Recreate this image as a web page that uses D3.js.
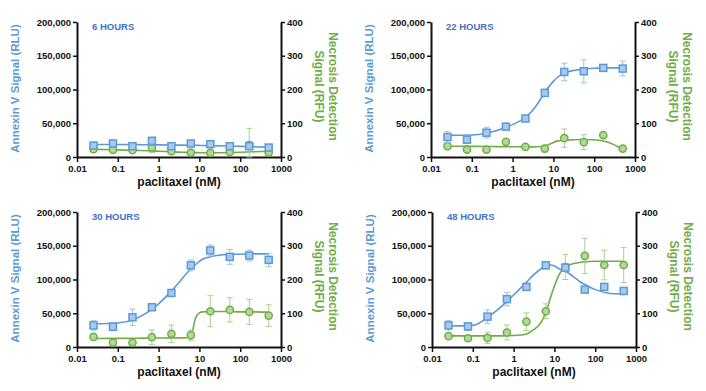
<!DOCTYPE html>
<html>
<head>
<meta charset="utf-8">
<script src="https://cdn.jsdelivr.net/npm/d3@7"></script>
<style>
  body { margin: 0; background: #fff; }
  svg { font-family: "Liberation Sans", Arial, sans-serif; }
  .tick text { font-size: 9.5px; font-weight: bold; fill: #111; }
</style>
</head>
<body>
<div class="chart"></div>
<script>
// paclitaxel doses (nM), 3-fold dilutions from 500
var doses = [0.0254, 0.0762, 0.229, 0.686, 2.06, 6.17, 18.5, 55.6, 166.7, 500];

var titles = ["6 HOURS", "22 HOURS", "30 HOURS", "48 HOURS"];

// Annexin V signal (RLU) means and error bars
var annexin6 = [17000, 20000, 16000, 24000, 16000, 20000, 19000, 16000, 16000, 14000];
var annexin22 = [29600, 25700, 36000, 45000, 57000, 95000, 126000, 127000, 132000, 131000];
var annexin30 = [32000, 30000, 44000, 59000, 80000, 121000, 143000, 133500, 135500, 129000];
var annexin48 = [32000, 30400, 45000, 71000, 89000, 121000, 117600, 85000, 89000, 83000];

var annexinErr6 = [4000, 4000, 3000, 5000, 3000, 3000, 4000, 3000, 4000, 3000];
var annexinErr22 = [8000, 5000, 8000, 3000, 4000, 3000, 13000, 17000, 5000, 11000];
var annexinErr30 = [7000, 5000, 12000, 3000, 5000, 8000, 8000, 11000, 8000, 10000];
var annexinErr48 = [7000, 6000, 10000, 10000, 5000, 5000, 5000, 3000, 3000, 3000];

// Necrosis detection signal (RFU) means and error bars
var necrosis6 = [23, 21, 20, 28, 17, 13, 12, 15, 35, 13];
var necrosis22 = [32, 22, 22, 45, 30, 25, 56, 44, 65, 25];
var necrosis30 = [30, 13, 13, 29, 39, 35, 106, 110, 104, 93];
var necrosis48 = [32, 26, 27, 43, 75, 106, 237, 270, 243, 243];

var necrosisErr6 = [8, 4, 4, 15, 4, 3, 3, 4, 50, 3];
var necrosisErr22 = [10, 4, 4, 4, 4, 10, 27, 22, 4, 4];
var necrosisErr30 = [5, 4, 4, 22, 26, 15, 46, 36, 37, 32];
var necrosisErr48 = [5, 4, 17, 22, 26, 22, 37, 52, 44, 52];

// fitted curves at these doses
var curveDoses = [0.025, 0.1, 0.3, 0.7, 1, 2, 3, 5, 6, 7, 8, 10, 12, 20, 50, 100, 200, 500];

var annexinFit6 = [18500, 18500, 18300, 18000, 18000, 17800, 17600, 17500, 17400, 17300, 17300, 17200, 17000, 16800, 16300, 15800, 15200, 14200];
var annexinFit22 = [32000, 32500, 37000, 44000, 48000, 58000, 68000, 87000, 95000, 101000, 105000, 112000, 117000, 125000, 130000, 131500, 132000, 132000];
var annexinFit30 = [34000, 35500, 43000, 56000, 64000, 82000, 94000, 110000, 115000, 119000, 122000, 127000, 130000, 134000, 137000, 137500, 138000, 138000];
var annexinFit48 = [31000, 32000, 49000, 68000, 77000, 95000, 106000, 117000, 120000, 121000, 121500, 120000, 117000, 111000, 94000, 85000, 80000, 78000];

var necrosisFit6 = [23, 21, 19.5, 18, 17, 15.5, 14.5, 13.8, 13.5, 13.3, 13, 12.7, 12.5, 12.5, 13, 14, 15.5, 17];
var necrosisFit22 = [32, 31.5, 31, 30.5, 30.5, 30, 30, 31, 32, 35, 38, 43, 47, 50, 52, 51, 45, 23];
var necrosisFit30 = [25, 25.5, 26, 26.5, 26.5, 27, 27, 27.5, 30, 55, 85, 101, 104, 105, 105, 104, 104, 103];
var necrosisFit48 = [33, 33, 33, 33.5, 34, 38, 50, 78, 100, 122, 146, 180, 205, 240, 252, 254, 254, 254];

var xTicks = [0.01, 0.1, 1, 10, 100, 1000];
var leftTicks = [0, 50000, 100000, 150000, 200000];
var rightTicks = [0, 100, 200, 300, 400];

var annexinSets = [annexin6, annexin22, annexin30, annexin48];
var annexinErrSets = [annexinErr6, annexinErr22, annexinErr30, annexinErr48];
var necrosisSets = [necrosis6, necrosis22, necrosis30, necrosis48];
var necrosisErrSets = [necrosisErr6, necrosisErr22, necrosisErr30, necrosisErr48];
var annexinFits = [annexinFit6, annexinFit22, annexinFit30, annexinFit48];
var necrosisFits = [necrosisFit6, necrosisFit22, necrosisFit30, necrosisFit48];

// colours
var blue = "#5b9bd5";
var blueFill = "#a9c8ee";
var blueErr = "#9dc3e6";
var titleBlue = "#4472c4";
var green = "#70ad47";
var greenFill = "#b4d79b";
var greenErr = "#a9d18e";

var svgWidth = 706;
var svgHeight = 391;
var width = 204;
var height = 135;
var panelX = [77, 431, 77, 432];
var panelY = [22, 22, 212, 212];

var svg = d3.select(".chart")
  .append("svg")
  .attr("width", svgWidth)
  .attr("height", svgHeight);

var x = d3.scaleLog().domain([0.01, 1000]).range([0, width]);
var yLeft = d3.scaleLinear().domain([0, 200000]).range([height, 0]);
var yRight = d3.scaleLinear().domain([0, 400]).range([height, 0]);

function drawPanel(i) {
  var g = svg.append("g")
    .attr("transform", `translate(${panelX[i]}, ${panelY[i]})`);

  // axes
  var bottomAxis = d3.axisBottom(x)
    .tickValues(xTicks)
    .tickFormat(d => String(d))
    .tickSize(5)
    .tickSizeOuter(0)
    .tickPadding(3);
  var leftAxis = d3.axisLeft(yLeft)
    .tickValues(leftTicks)
    .tickFormat(d3.format(","))
    .tickSize(4)
    .tickSizeOuter(0)
    .tickPadding(2);
  var rightAxis = d3.axisRight(yRight)
    .tickValues(rightTicks)
    .tickSize(4)
    .tickSizeOuter(0)
    .tickPadding(2);

  g.append("g").attr("transform", `translate(0, ${height})`).call(bottomAxis);
  g.append("g").call(leftAxis);
  g.append("g").attr("transform", `translate(${width}, 0)`).call(rightAxis);

  g.selectAll(".domain").attr("stroke", "#111").attr("stroke-width", 2);
  g.selectAll(".tick line").attr("stroke", "#111").attr("stroke-width", 1.5);

  // axis titles
  g.append("text")
    .attr("transform", `translate(-62, ${height / 2 - 1}) rotate(-90)`)
    .attr("text-anchor", "middle")
    .attr("dy", "0.35em")
    .attr("font-size", "11.5px")
    .attr("font-weight", "bold")
    .attr("fill", blue)
    .text("Annexin V Signal (RLU)");

  g.append("text")
    .attr("transform", `translate(${width + 52}, ${height / 2 - 3}) rotate(90)`)
    .attr("text-anchor", "middle")
    .attr("dy", "0.35em")
    .attr("font-size", "12px")
    .attr("font-weight", "bold")
    .attr("fill", green)
    .text("Necrosis Detection");

  g.append("text")
    .attr("transform", `translate(${width + 38}, ${height / 2 - 3}) rotate(90)`)
    .attr("text-anchor", "middle")
    .attr("dy", "0.35em")
    .attr("font-size", "12px")
    .attr("font-weight", "bold")
    .attr("fill", green)
    .text("Signal (RFU)");

  g.append("text")
    .attr("x", width / 2)
    .attr("y", height + 29)
    .attr("text-anchor", "middle")
    .attr("font-size", "12px")
    .attr("font-weight", "bold")
    .attr("fill", "#111")
    .text("paclitaxel (nM)");

  g.append("text")
    .attr("x", 15)
    .attr("y", 8)
    .attr("font-size", "9.5px")
    .attr("font-weight", "bold")
    .attr("fill", titleBlue)
    .text(titles[i]);

  // fitted curves
  var necrosisLine = d3.line()
    .x((d, j) => x(curveDoses[j]))
    .y(d => yRight(d))
    .curve(d3.curveMonotoneX);
  var annexinLine = d3.line()
    .x((d, j) => x(curveDoses[j]))
    .y(d => yLeft(d))
    .curve(d3.curveMonotoneX);

  // necrosis (green) first, annexin drawn on top
  var gn = g.append("g");
  gn.append("path")
    .datum(necrosisFits[i])
    .attr("d", necrosisLine)
    .attr("fill", "none")
    .attr("stroke", green)
    .attr("stroke-width", 1.6);

  var nData = necrosisSets[i].map((v, j) => ({ dose: doses[j], v: v, e: necrosisErrSets[i][j] }));
  var nErr = gn.selectAll(".nerr").data(nData).enter().append("g")
    .attr("stroke", greenErr).attr("stroke-width", 1);
  nErr.append("line")
    .attr("x1", d => x(d.dose)).attr("x2", d => x(d.dose))
    .attr("y1", d => yRight(d.v + d.e)).attr("y2", d => yRight(Math.max(0, d.v - d.e)));
  nErr.append("line")
    .attr("x1", d => x(d.dose) - 3).attr("x2", d => x(d.dose) + 3)
    .attr("y1", d => yRight(d.v + d.e)).attr("y2", d => yRight(d.v + d.e));
  nErr.append("line")
    .attr("x1", d => x(d.dose) - 3).attr("x2", d => x(d.dose) + 3)
    .attr("y1", d => yRight(Math.max(0, d.v - d.e))).attr("y2", d => yRight(Math.max(0, d.v - d.e)));

  gn.selectAll("circle").data(nData).enter().append("circle")
    .attr("cx", d => x(d.dose))
    .attr("cy", d => yRight(d.v))
    .attr("r", 3.6)
    .attr("fill", greenFill)
    .attr("stroke", green)
    .attr("stroke-width", 1.5);

  var gb = g.append("g");
  gb.append("path")
    .datum(annexinFits[i])
    .attr("d", annexinLine)
    .attr("fill", "none")
    .attr("stroke", blue)
    .attr("stroke-width", 1.6);

  var aData = annexinSets[i].map((v, j) => ({ dose: doses[j], v: v, e: annexinErrSets[i][j] }));
  var aErr = gb.selectAll(".aerr").data(aData).enter().append("g")
    .attr("stroke", blueErr).attr("stroke-width", 1);
  aErr.append("line")
    .attr("x1", d => x(d.dose)).attr("x2", d => x(d.dose))
    .attr("y1", d => yLeft(d.v + d.e)).attr("y2", d => yLeft(Math.max(0, d.v - d.e)));
  aErr.append("line")
    .attr("x1", d => x(d.dose) - 3).attr("x2", d => x(d.dose) + 3)
    .attr("y1", d => yLeft(d.v + d.e)).attr("y2", d => yLeft(d.v + d.e));
  aErr.append("line")
    .attr("x1", d => x(d.dose) - 3).attr("x2", d => x(d.dose) + 3)
    .attr("y1", d => yLeft(d.v - d.e)).attr("y2", d => yLeft(d.v - d.e));

  gb.selectAll("rect").data(aData).enter().append("rect")
    .attr("x", d => x(d.dose) - 3.5)
    .attr("y", d => yLeft(d.v) - 3.5)
    .attr("width", 7)
    .attr("height", 7)
    .attr("fill", blueFill)
    .attr("stroke", blue)
    .attr("stroke-width", 1.5);
}

for (var i = 0; i < 4; i++) {
  drawPanel(i);
}
</script>
</body>
</html>
